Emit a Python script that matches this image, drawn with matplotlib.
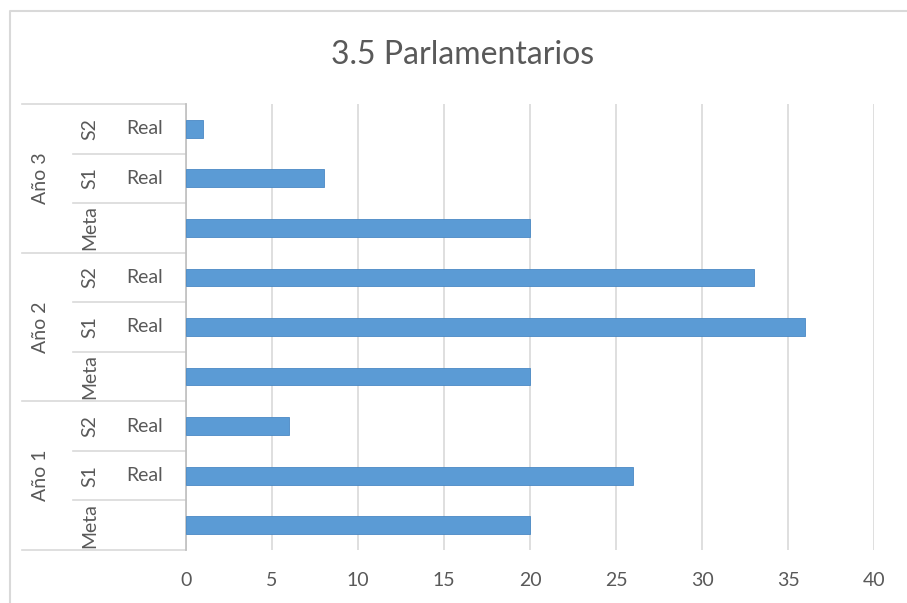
import matplotlib
matplotlib.use("Agg")
import matplotlib.pyplot as plt
from matplotlib.lines import Line2D
import matplotlib.transforms as mtrans

# data (bottom to top, as drawn by Excel)
years   = ["Año 1", "Año 2", "Año 3"]
periods = ["Meta", "S1", "S2"]
kinds   = ["", "Real", "Real"]
vals_y1 = [20, 26, 6]
vals_y2 = [20, 36, 33]
vals_y3 = [20, 8, 1]
xticks  = [0, 5, 10, 15, 20, 25, 30, 35, 40]

plt.rcParams["font.family"] = ["Lato", "DejaVu Sans"]
txt = "#595959"; grid = "#d9d9d9"; bar_c = "#5b9bd5"
fs = 14

W, H = 907, 603
fig = plt.figure(figsize=(W/100, H/100), dpi=100)
L, R, T, B = 186, 874, 104, 550
ax = fig.add_axes([L/W, 1-B/H, (R-L)/W, (B-T)/H])

values = vals_y1 + vals_y2 + vals_y3
pos = list(range(len(values)))
ax.barh(pos, values, height=0.36, color=bar_c, edgecolor="#4a89c4", lw=0.6, zorder=3)

ax.set_xlim(0, 40); ax.set_ylim(-0.5, len(values)-0.5)
ax.set_xticks(xticks)
ax.set_xticklabels([str(t) for t in xticks], fontsize=fs, color=txt)
ax.tick_params(axis="x", length=0, pad=16)
ax.set_yticks([])
ax.grid(axis="x", color=grid, lw=1.2, zorder=0)
for s in ["top", "right", "bottom"]:
    ax.spines[s].set_visible(False)
ax.spines["left"].set_color("#bfbfbf"); ax.spines["left"].set_linewidth(1.2)

# multi-level category labels
tr = mtrans.blended_transform_factory(ax.transAxes, ax.transData)
px = lambda p: (p - L) / (R - L)
for g, yr in enumerate(years):
    base = g * 3
    ax.plot([px(22), 0], [base-0.5, base-0.5], color=grid, lw=1.2, transform=tr, clip_on=False)
    ax.text(px(40), base+1, yr, rotation=90, ha="center", va="center", fontsize=fs, color=txt, transform=tr)
    for i, (p, k) in enumerate(zip(periods, kinds)):
        y = base + i
        if i > 0:
            ax.plot([px(73), 0], [y-0.5, y-0.5], color=grid, lw=1.2, transform=tr, clip_on=False)
        ax.text(px(90), y, p, rotation=90, ha="center", va="center", fontsize=fs, color=txt, transform=tr)
        if k:
            ax.text(px(145), y, k, ha="center", va="center", fontsize=fs, color=txt, transform=tr)
ax.plot([px(22), 0], [len(values)-0.5]*2, color=grid, lw=1.2, transform=tr, clip_on=False)

fig.text(463/W, 1-55/H, "3.5 Parlamentarios", ha="center", va="center", fontsize=23, color=txt)
# chart frame: only left and top edges are visible in the crop
fx, fy = 10/W, 1-11/H
fig.lines.append(Line2D([fx, fx, 1], [0, fy, fy], transform=fig.transFigure, color=grid, lw=1.5))
fig.savefig("out.png", dpi=100)
